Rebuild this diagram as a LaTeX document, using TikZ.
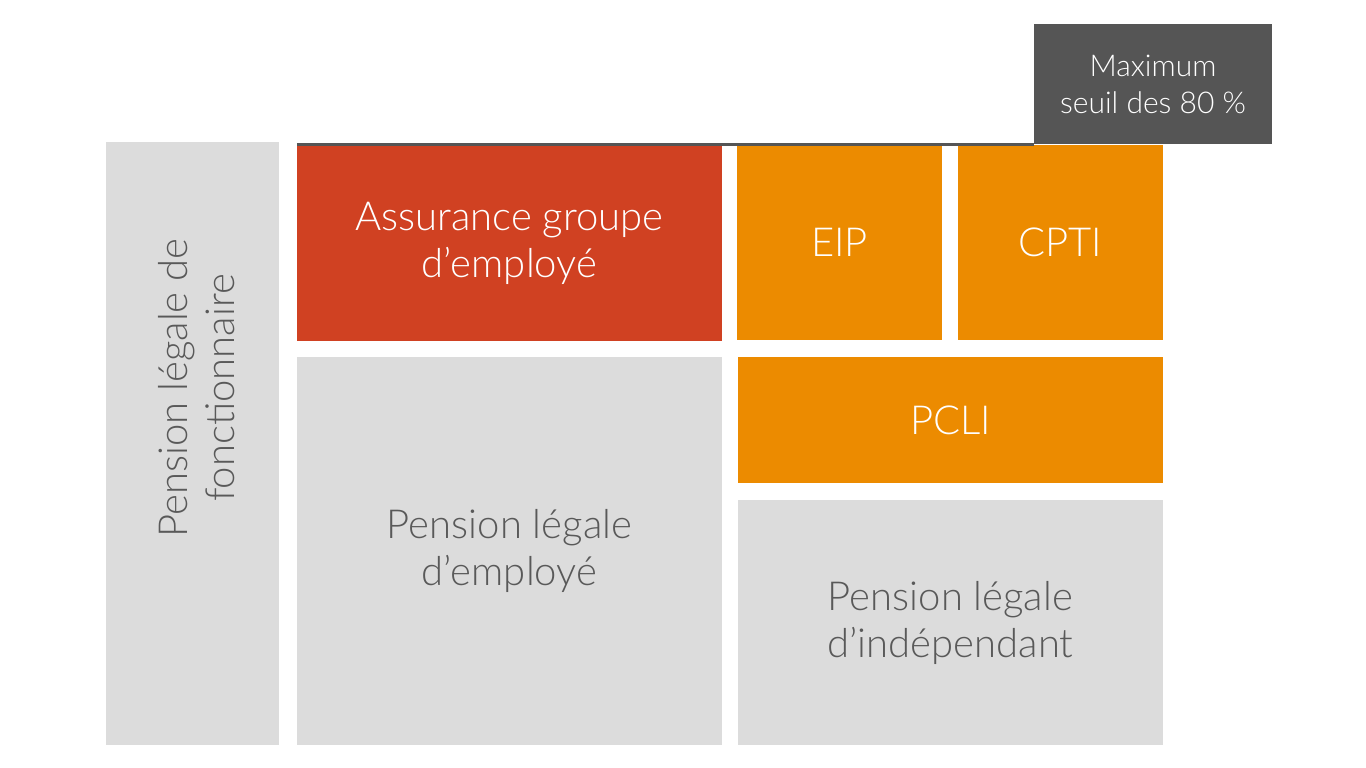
\documentclass[tikz,border=0pt]{standalone}
\usepackage{fontspec}
\setmainfont{Lato Light}
\usepackage{tikz}
\usepackage{xcolor}

\definecolor{boxgray}{HTML}{DCDCDC}
\definecolor{boxred}{HTML}{D04122}
\definecolor{boxorange}{HTML}{EC8B00}
\definecolor{boxdark}{HTML}{555555}
\definecolor{textgray}{HTML}{595959}

\tikzset{
  block/.style={rectangle, inner sep=0pt, align=center, font=\fontsize{40}{47}\selectfont},
  grayblock/.style={block, fill=boxgray, text=textgray},
  redblock/.style={block, fill=boxred, text=white},
  orangeblock/.style={block, fill=boxorange, text=white},
  darkblock/.style={block, fill=boxdark, text=white, font=\fontsize{30}{37}\selectfont}
}

\begin{document}
\begin{tikzpicture}[x=1pt, y=-1pt]
\useasboundingbox (0,0) rectangle (1366,768);

\node[grayblock, minimum width=173, minimum height=603] (fonct) at (192.5,443.5) {};
\node[block, text=textgray, rotate=90] (fonctlabel) at (197,388) {Pension légale de\\fonctionnaire};
\node[redblock, minimum width=425, minimum height=196] (assur) at (509.5,243) {Assurance groupe\\d’employé};
\node[orangeblock, minimum width=205, minimum height=195] (eip) at (839.5,242.5) {EIP};
\node[orangeblock, minimum width=205, minimum height=195] (cpti) at (1060.5,242.5) {CPTI};
\node[orangeblock, minimum width=425, minimum height=126] (pcli) at (950.5,420) {PCLI};
\node[grayblock, minimum width=425, minimum height=388] (employe) at (509.5,551) {Pension légale\\d’employé};
\node[grayblock, minimum width=425, minimum height=245] (indep) at (950.5,622.5) {Pension légale\\d’indépendant};
\node[darkblock, minimum width=238, minimum height=120] (maxi) at (1153,84) {Maximum\\seuil des 80 \%};

\draw[boxdark, line width=3pt] (assur.north west) -- (assur.north west -| maxi.west);
\end{tikzpicture}
\end{document}
